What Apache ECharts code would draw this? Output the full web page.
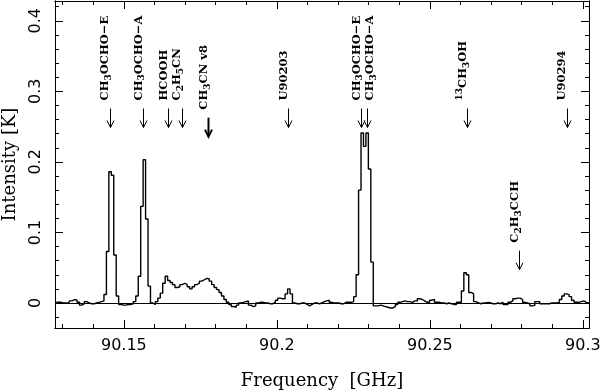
<!DOCTYPE html>
<html>
<head>
<meta charset="UTF-8">
<title>spectrum</title>
<script src="https://cdn.jsdelivr.net/npm/echarts@6.0.0/dist/echarts.min.js"></script>
<style>
  body { margin: 0; padding: 0; background: #fff; }
  #app { width: 602px; height: 392px; }
</style>
</head>
<body>
<div id="app"></div>
<script>
// channel grid of the spectrum (GHz)
const chanStart = 90.1275;
const chanWidth = 0.0008;

// intensity per channel [K]
const intensity = [
  0.001, 0.001, 0.001, 0.000, 0.000, 0.000, 0.003, 0.005, 0.004, 0.001,
  -0.003, -0.001, 0.002, 0.000, -0.001, -0.001, 0.000, 0.001, 0.002, 0.003,
  0.012, 0.073, 0.186, 0.181, 0.068, 0.010, -0.002, -0.003, -0.003, -0.002,
  -0.002, -0.001, 0.002, 0.010, 0.038, 0.137, 0.203, 0.119, 0.024, 0.000,
  -0.002, 0.002, 0.007, 0.014, 0.028, 0.038, 0.032, 0.029, 0.026, 0.022,
  0.023, 0.026, 0.028, 0.026, 0.023, 0.020, 0.023, 0.026, 0.028, 0.031,
  0.033, 0.035, 0.034, 0.031, 0.026, 0.022, 0.019, 0.015, 0.010, 0.005,
  0.001, -0.002, -0.005, -0.006, -0.003, 0.000, 0.001, 0.002, 0.003, -0.003,
  -0.005, -0.004, 0.000, 0.001, 0.001, 0.000, 0.000, -0.001, -0.001, 0.001,
  0.004, 0.007, 0.006, 0.006, 0.013, 0.020, 0.013, 0.000, -0.001, -0.001,
  0.000, 0.000, -0.002, -0.004, -0.002, 0.000, 0.000, -0.001, 0.000, 0.002,
  0.003, 0.004, 0.001, 0.000, 0.000, 0.000, -0.001, -0.001, 0.001, 0.001,
  0.001, 0.002, 0.009, 0.040, 0.160, 0.241, 0.222, 0.241, 0.190, 0.058,
  -0.004, -0.004, -0.003, -0.004, -0.005, -0.006, -0.007, -0.007, -0.005, -0.002,
  0.001, 0.002, 0.003, 0.002, 0.002, 0.001, 0.003, 0.003, 0.006, 0.005,
  0.003, 0.001, 0.001, 0.004, 0.005, 0.001, 0.001, 0.000, 0.000, -0.001,
  0.000, -0.001, -0.002, -0.002, 0.001, 0.001, 0.017, 0.043, 0.040, 0.015,
  0.013, 0.002, 0.000, -0.001, 0.000, 0.000, 0.001, 0.000, -0.001, -0.001,
  0.000, -0.001, 0.001, -0.002, -0.002, 0.001, 0.003, 0.006, 0.007, 0.007,
  0.005, 0.001, 0.000, -0.001, -0.004, -0.003, 0.002, 0.002, -0.001, -0.001,
  -0.001, -0.001, 0.000, 0.000, 0.000, 0.001, 0.005, 0.010, 0.013, 0.012,
  0.009, 0.004, 0.001, 0.001, 0.002, 0.003, 0.001, 0.000, 0.000
];

// line identifications: _x = subscript, ^xx = superscript
const lineNames = ['CH_3OCHO\u2212E', 'CH_3OCHO\u2212A', 'HCOOH', 'C_2H_5CN', 'CH_3CN v8', 'U90203',
                   'CH_3OCHO\u2212E', 'CH_3OCHO\u2212A', '^13CH_3OH', 'U90294', 'C_2H_3CCH'];
const lineFreqs = [90.1454, 90.1563, 90.1645, 90.1689, 90.1776, 90.2037,
                   90.2275, 90.2293, 90.2622, 90.2947, 90.2792];
const labelFreqs = [90.1454, 90.1563, 90.1645, 90.1689, 90.1776, 90.2037,
                    90.2275, 90.2320, 90.2622, 90.2947, 90.2792];
const labelBase = [0.287, 0.287, 0.287, 0.287, 0.274, 0.287,
                   0.287, 0.287, 0.287, 0.287, 0.0855];

// axes
const xMin = 90.1275, xMax = 90.302;
const yMin = -0.0354, yMax = 0.428;
const xMajor = [90.15, 90.2, 90.25, 90.3];
const xMinor = [90.13, 90.14, 90.16, 90.17, 90.18, 90.19, 90.21, 90.22, 90.23, 90.24, 90.26, 90.27, 90.28, 90.29];
const yMajor = [0, 0.1, 0.2, 0.3, 0.4];
const yMinor = [-0.02, 0.02, 0.04, 0.06, 0.08, 0.12, 0.14, 0.16, 0.18, 0.22, 0.24, 0.26, 0.28, 0.32, 0.34, 0.36, 0.38, 0.42];

const sans = 'DejaVu Sans';
const serif = 'DejaVu Serif';

const spectrum = intensity.map((v, i) => [chanStart + (i + 0.5) * chanWidth, v]);

const richStyles = {
    n: {fontFamily: serif, fontWeight: 'bold', fontSize: 11.5, lineHeight: 16, fill: '#000'},
    s: {fontFamily: serif, fontWeight: 'bold', fontSize: 9, lineHeight: 9, verticalAlign: 'bottom', fill: '#000'},
    p: {fontFamily: serif, fontWeight: 'bold', fontSize: 9, lineHeight: 9, verticalAlign: 'top', fill: '#000'}
};

function toRich(s) {
    return s.replace(/_(\d)|\^(\d+)|([^_^]+)/g, (m, sub, sup, txt) =>
        sub ? '{s|' + sub + '}' : sup ? '{p|' + sup + '}' : '{n|' + txt + '}');
}

function renderLine(params, api) {
    const i = params.dataIndex;
    const a = api.coord([api.value(0), api.value(1)]);
    const t = api.coord([api.value(2), api.value(1)]);
    const w = lineNames[i].indexOf('CN v8') >= 0 ? 2 : 1;
    const x = Math.round(a[0]) + 0.5, y = a[1];
    const st = {stroke: '#000', lineWidth: w, fill: 'none'};
    return {
        type: 'group',
        children: [
            {type: 'text', x: t[0] - 4.5, y: y, rotation: Math.PI / 2,
             style: {text: toRich(lineNames[i]), rich: richStyles, fontFamily: serif, fontSize: 11.5,
                     align: 'left', verticalAlign: 'middle', fill: '#000'}},
            {type: 'polyline', shape: {points: [[x, y + 8], [x, y + 27]]}, style: st},
            {type: 'polyline', shape: {points: [[x - 3.5, y + 20], [x, y + 27], [x + 3.5, y + 20]]}, style: st}
        ]
    };
}

function xAxisCfg(pos, ticks, len, labels) {
    return {
        type: 'value', position: pos, min: xMin, max: xMax,
        axisLine: {show: true, onZero: false, lineStyle: {color: '#000', width: 1}},
        axisTick: {show: true, inside: true, length: len, customValues: ticks, lineStyle: {color: '#000', width: 1}},
        axisLabel: {show: labels, customValues: ticks, color: '#000', fontFamily: sans, fontSize: 16, margin: 10},
        splitLine: {show: false},
        name: labels ? 'Frequency  [GHz]' : '',
        nameLocation: 'middle', nameGap: 44,
        nameTextStyle: {fontFamily: serif, fontSize: 18, color: '#000'}
    };
}

function yAxisCfg(pos, ticks, len, labels) {
    return {
        type: 'value', position: pos, min: yMin, max: yMax,
        axisLine: {show: true, onZero: false, lineStyle: {color: '#000', width: 1}},
        axisTick: {show: true, inside: true, length: len, customValues: ticks, lineStyle: {color: '#000', width: 1}},
        axisLabel: {show: labels, customValues: ticks, rotate: 90, color: '#000', fontFamily: sans, fontSize: 16, margin: 11},
        splitLine: {show: false},
        name: labels ? 'Intensity [K]' : '',
        nameLocation: 'middle', nameGap: 36,
        nameTextStyle: {fontFamily: serif, fontSize: 18, color: '#000'}
    };
}

const chart = echarts.init(document.getElementById('app'), null, {renderer: 'canvas'});
chart.setOption({
    animation: false,
    backgroundColor: '#fff',
    grid: {left: 55, right: 13, top: 1, bottom: 64, containLabel: false, outerBoundsMode: 'none'},
    xAxis: [
        xAxisCfg('bottom', xMajor, 8, true),
        xAxisCfg('bottom', xMinor, 4, false),
        xAxisCfg('top', xMajor, 8, false),
        xAxisCfg('top', xMinor, 4, false)
    ],
    yAxis: [
        yAxisCfg('left', yMajor, 8, true),
        yAxisCfg('left', yMinor, 4, false),
        yAxisCfg('right', yMajor, 8, false),
        yAxisCfg('right', yMinor, 4, false)
    ],
    series: [
        {
            type: 'line',
            data: spectrum,
            step: 'middle',
            symbol: 'none',
            lineStyle: {color: '#000', width: 1.4},
            silent: true,
            markLine: {
                silent: true,
                symbol: 'none',
                label: {show: false},
                lineStyle: {color: '#000', width: 1, type: 'solid'},
                data: [{yAxis: 0}]
            }
        },
        {
            type: 'custom',
            silent: true,
            renderItem: renderLine,
            data: lineFreqs.map((f, i) => [f, labelBase[i], labelFreqs[i]]),
            clip: false
        }
    ]
});
</script>
</body>
</html>
